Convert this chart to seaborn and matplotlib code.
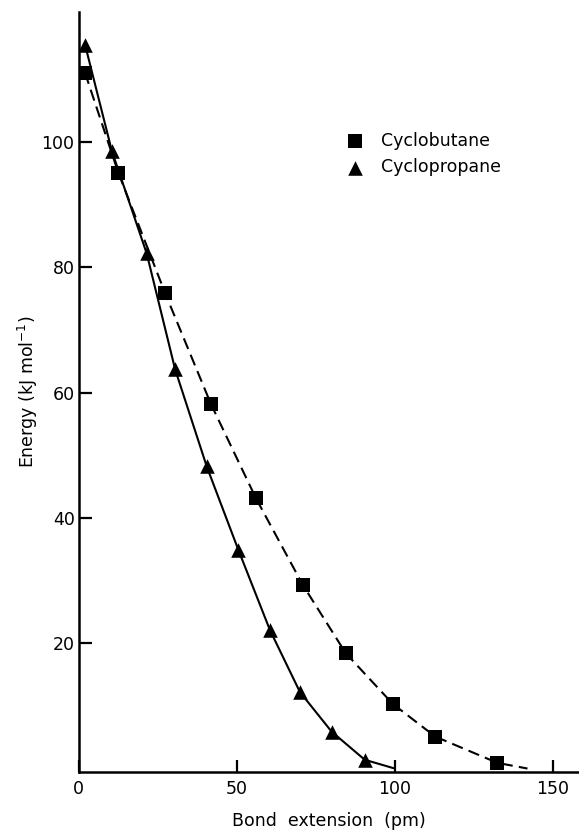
import numpy as np
import pandas as pd
import matplotlib
matplotlib.use("Agg")
import matplotlib.pyplot as plt
import seaborn as sns

# datos
# Cyclobutane (cuadrados)
cb_x = [2, 12.5, 27.3, 41.8, 56.1, 70.9, 84.5, 99.4, 112.8, 132.5]
cb_y = [111, 95.1, 75.9, 58.2, 43.1, 29.3, 18.4, 10.3, 5.1, 0.9]
cb_end = (142, 0)  # donde la curva llega a cero

# Cyclopropane (triangulos)
cp_x = [2, 10.5, 21.5, 30.5, 40.5, 50.5, 60.5, 70, 80, 90.5]
cp_y = [115.5, 98.5, 82.2, 63.7, 48.2, 34.9, 22.1, 12.2, 5.9, 1.4]
cp_end = (100, 0)

x_ticks = [0, 50, 100, 150]
y_ticks = [20, 40, 60, 80, 100]

sns.set_style("ticks")
plt.rcParams['font.family'] = ['DejaVu Sans']
plt.rcParams['text.color'] = 'black'
plt.rcParams['axes.labelcolor'] = 'black'
plt.rcParams['xtick.color'] = 'black'
plt.rcParams['ytick.color'] = 'black'
plt.rcParams['axes.edgecolor'] = 'black'

fig = plt.figure(figsize=(5.79, 8.31), dpi=100)
ax = fig.add_axes([0.136, 0.0714, 0.864, 0.914])

# curvas
df_cb = pd.DataFrame({"x": cb_x + [cb_end[0]], "y": cb_y + [cb_end[1]]})
df_cp = pd.DataFrame({"x": cp_x + [cp_end[0]], "y": cp_y + [cp_end[1]]})
sns.lineplot(data=df_cb, x="x", y="y", ax=ax, color="black", lw=1.5,
             sort=False, estimator=None)
ax.lines[-1].set_dashes((5.5, 3))
sns.lineplot(data=df_cp, x="x", y="y", ax=ax, color="black", lw=1.5,
             sort=False, estimator=None)

# marcadores
sns.scatterplot(x=cb_x, y=cb_y, ax=ax, marker="s", s=110, color="black",
                edgecolor="black", linewidth=0, zorder=3, label="Cyclobutane")
sns.scatterplot(x=cp_x, y=cp_y, ax=ax, marker="^", s=110, color="black",
                edgecolor="black", linewidth=0, zorder=3, label="Cyclopropane")

# ejes
ax.set_xlim(0, 158.3)
ax.set_ylim(-0.5, 120.7)
ax.set_xticks(x_ticks)
ax.set_yticks(y_ticks)
ax.tick_params(direction="in", length=9, width=1.6, labelsize=12.5)
ax.tick_params(axis="x", pad=6)
ax.tick_params(axis="y", pad=3)
for s in ["top", "right"]:
    ax.spines[s].set_visible(False)
for s in ["left", "bottom"]:
    ax.spines[s].set_linewidth(1.8)

ax.set_xlabel("Bond  extension  (pm)", fontsize=12.5, labelpad=10)
ax.set_ylabel(r"Energy (kJ mol$^{-1}$)", fontsize=12.5, labelpad=1)

leg = ax.legend(loc="upper left", bbox_to_anchor=(0.486, 0.863), frameon=False,
                fontsize=12.5, handletextpad=0.5, labelspacing=0.5,
                markerscale=1.0)

fig.savefig("out.png", dpi=100)
